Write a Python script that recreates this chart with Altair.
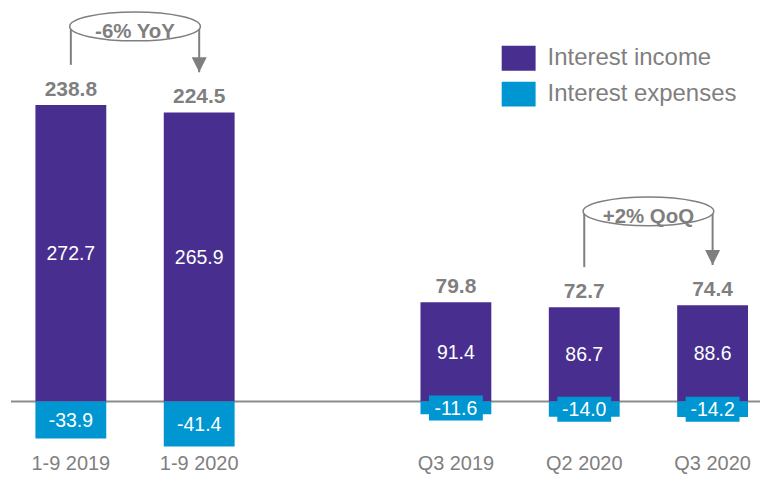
import altair as alt
import pandas as pd

# ---- data ----
categories = ["1-9 2019", "1-9 2020", "Q3 2019", "Q2 2020", "Q3 2020"]
interest_income = [272.7, 265.9, 91.4, 86.7, 88.6]
interest_expenses = [-33.9, -41.4, -11.6, -14.0, -14.2]
net_interest = [238.8, 224.5, 79.8, 72.7, 74.4]
series_names = ["Interest income", "Interest expenses"]

ann_from = ["1-9 2019", "Q2 2020"]
ann_to = ["1-9 2020", "Q3 2020"]
ann_text = ["-6% YoY", "+2% QoQ"]
ann_level = [345, 175]

# ---- styling ----
PURPLE = "#482F8F"
BLUE = "#0096D2"
GRAY = "#7F7F7F"
FONT = "Liberation Sans, Arial, sans-serif"
GAP = " "
x_domain = categories[:2] + [GAP] + categories[2:]
ARROW_GAP = 37  # value units between bar top and bracket end
RECT = "M-1,-0.735H1V0.735H-1Z"
BOX = "M-1,-0.463H1V0.463H-1Z"
ELLIPSE = ("M-1,0C-1,-0.1215 -0.5523,-0.22 0,-0.22C0.5523,-0.22 1,-0.1215 1,0"
           "C1,0.1215 0.5523,0.22 0,0.22C-0.5523,0.22 -1,0.1215 -1,0Z")
TRI = "M-1,-1L1,-1L0,1Z"

# ---- tables ----
rows = []
for c, inc, exp in zip(categories, interest_income, interest_expenses):
    rows.append({"category": c, "series": series_names[0], "value": inc,
                 "mid": inc / 2, "label": f"{inc:.1f}"})
    rows.append({"category": c, "series": series_names[1], "value": exp,
                 "mid": exp / 2, "label": f"{exp:.1f}"})
bars = pd.DataFrame(rows)
small = bars[(bars["series"] == series_names[1]) & (bars["value"].abs() < 20)]

tot = pd.DataFrame({"category": categories, "income": interest_income,
                    "total": [f"{v:.1f}" for v in net_interest]})
inc_map = dict(zip(categories, interest_income))

lines = []
for f, t, lv in zip(ann_from, ann_to, ann_level):
    lines.append({"category": f, "y": lv, "y2": inc_map[f] + ARROW_GAP, "arrow": 0})
    lines.append({"category": t, "y": lv, "y2": inc_map[t] + ARROW_GAP, "arrow": 1})
lines = pd.DataFrame(lines)
heads = lines[lines["arrow"] == 1]
ann = pd.DataFrame({"category": ann_from, "level": ann_level, "text": ann_text})

# ---- scales ----
xscale = alt.Scale(domain=x_domain, paddingInner=0.448, paddingOuter=0.1418, align=0.671)
yscale = alt.Scale(domain=[-44, 359.6], nice=False, zero=False)
xaxis = alt.Axis(title=None, domain=False, ticks=False, labelAngle=0, labelFontSize=20,
                 labelColor=GRAY, labelFont=FONT, labelPadding=4)


def X():
    return alt.X("category:N", scale=xscale, sort=x_domain, axis=xaxis)


STEP_HALF = 64.35

zero = alt.Chart(pd.DataFrame({"z": [0]})).mark_rule(color="#8C8C8C", strokeWidth=2).encode(
    y=alt.Y("z:Q", scale=yscale, axis=None))

bar = alt.Chart(bars).mark_bar().encode(
    x=X(),
    y=alt.Y("value:Q", scale=yscale, axis=None),
    y2=alt.datum(0),
    color=alt.Color("series:N", scale=alt.Scale(domain=series_names, range=[PURPLE, BLUE]),
                    legend=alt.Legend(orient="none", legendX=492, legendY=30.7, title=None,
                                      symbolType=RECT, symbolSize=1156, symbolStrokeWidth=0,
                                      symbolOpacity=1, labelFontSize=24, labelColor=GRAY,
                                      labelFont=FONT, labelOffset=12, rowPadding=6,
                                      padding=0, labelLimit=400)),
)

boxes = alt.Chart(small).mark_point(shape=BOX, size=2916, filled=True, color=BLUE,
                                    opacity=1, strokeWidth=0).encode(
    x=X(), y=alt.Y("mid:Q", scale=yscale, axis=None))

inner = alt.Chart(bars).mark_text(color="white", fontSize=19.5, font=FONT,
                                  baseline="middle", dy=1).encode(
    x=X(), y=alt.Y("mid:Q", scale=yscale, axis=None), text="label:N")

totals = alt.Chart(tot).mark_text(color=GRAY, fontSize=21, fontWeight="bold", font=FONT,
                                  baseline="alphabetic", dy=-9.5).encode(
    x=X(), y=alt.Y("income:Q", scale=yscale, axis=None), text="total:N")

ann_lines = alt.Chart(lines).mark_rule(color=GRAY, strokeWidth=2).encode(
    x=X(), y=alt.Y("y:Q", scale=yscale, axis=None), y2="y2:Q")

ann_heads = alt.Chart(heads).mark_point(shape=TRI, size=225, filled=True, color=GRAY,
                                        opacity=1, yOffset=-7.5).encode(
    x=X(), y=alt.Y("y2:Q", scale=yscale, axis=None))

ellipses = alt.Chart(ann).mark_point(shape=ELLIPSE, size=17161, filled=True, fill="white",
                                     stroke=GRAY, strokeWidth=1.5, opacity=1,
                                     xOffset=STEP_HALF).encode(
    x=X(), y=alt.Y("level:Q", scale=yscale, axis=None))

ann_txt = alt.Chart(ann).mark_text(color=GRAY, fontSize=20.5, fontWeight="bold", font=FONT,
                                   baseline="alphabetic", dy=12, xOffset=STEP_HALF).encode(
    x=X(), y=alt.Y("level:Q", scale=yscale, axis=None), text="text:N")

chart = alt.layer(zero, bar, boxes, inner, totals, ann_lines, ann_heads, ellipses, ann_txt).properties(
    width=751, height=440,
    padding={"left": 2, "right": 0, "top": 0, "bottom": 0},
).configure_view(stroke=None)

chart.save("out.html", embed_options={"renderer": "svg", "actions": False})
